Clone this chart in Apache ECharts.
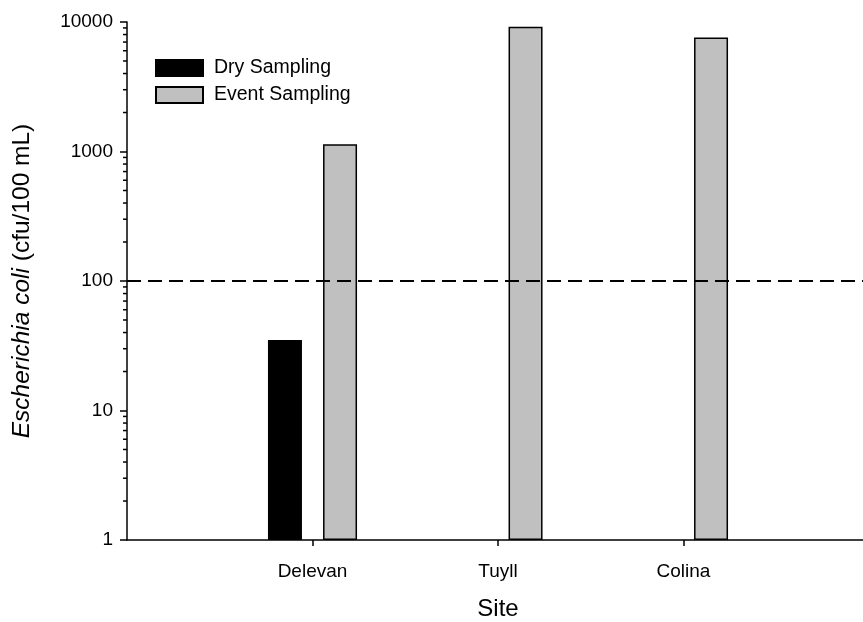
<!DOCTYPE html>
<html>
<head>
<meta charset="utf-8">
<script src="https://cdn.jsdelivr.net/npm/echarts@6/dist/echarts.min.js"></script>
<style>html,body{margin:0;padding:0;background:#fff;}#c{width:863px;height:622px;}</style>
</head>
<body>
<div id="c"></div>
<script>
const categories = ['', 'Delevan', 'Tuyll', 'Colina', ''];
const drySampling = [null, 35, null, null, null];
const eventSampling = [null, 1140, 9200, 7600, null];
const threshold = 100;
const minorTickValues = [2,3,4,5,6,7,8,9,20,30,40,50,60,70,80,90,200,300,400,500,600,700,800,900,2000,3000,4000,5000,6000,7000,8000,9000];

const FONT = 'Liberation Sans, Arial, sans-serif';
const chart = echarts.init(document.getElementById('c'), null, {renderer: 'canvas'});
chart.setOption({
  backgroundColor: '#fff',
  animation: false,
  textStyle: {fontFamily: FONT, color: '#000'},
  grid: {left: 127, width: 742, top: 22, height: 518, containLabel: false, outerBoundsMode: 'none'},
  legend: {
    orient: 'vertical', left: 150, top: 53, itemWidth: 47, itemHeight: 16, itemGap: 7,
    icon: 'rect',
    data: ['Dry Sampling', 'Event Sampling'],
    textStyle: {fontFamily: FONT, fontSize: 19.5, lineHeight: 16, color: '#000', padding: [0,0,0,6]},
    selectedMode: false
  },
  xAxis: {
    type: 'category', data: categories, boundaryGap: false,
    name: 'Site', nameLocation: 'middle', nameGap: 57,
    nameTextStyle: {fontFamily: FONT, fontSize: 24, color: '#000'},
    axisLine: {lineStyle: {color: '#000', width: 1.5}},
    axisTick: {length: 6, lineStyle: {color: '#000', width: 1.5}, interval: (i, v) => v !== ''},
    axisLabel: {fontFamily: FONT, fontSize: 19, color: '#000', margin: 22, interval: (i, v) => v !== ''},
    splitLine: {show: false}
  },
  yAxis: {
    type: 'log', logBase: 10, min: 1, max: 10000,
    name: '{i|Escherichia coli} (cfu/100 mL)', nameLocation: 'middle', nameGap: 92,
    nameTextStyle: {fontFamily: FONT, fontSize: 24.5, color: '#000', rich: {i: {fontFamily: FONT, fontSize: 24.5, fontStyle: 'italic', color: '#000'}}},
    axisLine: {show: true, lineStyle: {color: '#000', width: 1.5}},
    axisTick: {show: true, length: 7, lineStyle: {color: '#000', width: 1.5}},
    axisLabel: {fontFamily: FONT, fontSize: 19, color: '#000', margin: 14, formatter: v => String(Math.round(v))},
    splitLine: {show: false}
  },
  series: [
    {
      name: 'Dry Sampling', type: 'bar', data: drySampling, barWidth: 34, barGap: '62%',
      itemStyle: {color: '#000', borderColor: '#000', borderWidth: 1.5}
    },
    {
      name: 'Event Sampling', type: 'bar', data: eventSampling, barWidth: 34,
      itemStyle: {color: '#c0c0c0', borderColor: '#000', borderWidth: 1.5},
      markLine: {
        symbol: 'none', silent: true, label: {show: false},
        lineStyle: {color: '#000', type: [14, 7], width: 2},
        data: [{yAxis: threshold}]
      }
    },
    {
      type: 'custom', silent: true, clip: false, legendHoverLink: false,
      data: minorTickValues.map(v => [0, v]),
      encode: {x: 0, y: 1},
      renderItem: function (params, api) {
        const p = api.coord([0, api.value(1)]);
        return {type: 'line', shape: {x1: p[0] - 4, y1: p[1], x2: p[0], y2: p[1]}, style: {stroke: '#000', lineWidth: 1.5}};
      }
    }
  ]
});
</script>
</body>
</html>
